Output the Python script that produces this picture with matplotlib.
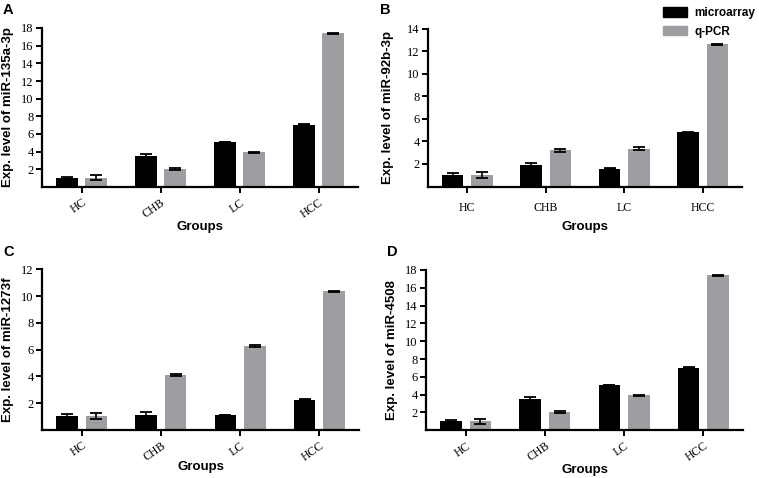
import numpy as np
import matplotlib
matplotlib.use("Agg")
import matplotlib.pyplot as plt
from matplotlib.patches import Patch

# data
groups = ["HC", "CHB", "LC", "HCC"]

a_micro = [1.06, 3.55, 5.07, 7.05]
a_micro_err = [0.12, 0.17, 0.03, 0.03]
a_qpcr = [1.04, 2.03, 3.92, 17.4]
a_qpcr_err = [0.28, 0.11, 0.06, 0.05]

b_micro = [1.04, 1.88, 1.58, 4.8]
b_micro_err = [0.14, 0.2, 0.02, 0.02]
b_qpcr = [1.03, 3.22, 3.35, 12.6]
b_qpcr_err = [0.27, 0.12, 0.13, 0.07]

c_micro = [1.07, 1.12, 1.12, 2.26]
c_micro_err = [0.12, 0.2, 0.02, 0.02]
c_qpcr = [1.05, 4.1, 6.27, 10.35]
c_qpcr_err = [0.25, 0.1, 0.07, 0.05]

d_micro = [1.06, 3.55, 5.07, 7.05]
d_micro_err = [0.12, 0.17, 0.03, 0.03]
d_qpcr = [1.04, 2.03, 3.92, 17.4]
d_qpcr_err = [0.28, 0.11, 0.06, 0.05]

BLACK = "#000000"
GRAY = "#9e9ea2"
SERIF = "Liberation Serif"
SANS = "Liberation Sans"

W, H = 759, 478


def px_axes(fig, left, top, right, bottom):
    return fig.add_axes([left / W, 1 - bottom / H, (right - left) / W, (bottom - top) / H])


def draw_panel(ax, micro, micro_err, qpcr, qpcr_err, ymax, ylabel, rotate, ylab_dx, xlab_dy):
    x = np.arange(len(groups))
    width = 0.272
    off = 0.186
    ax.bar(x - off, micro, width, color=BLACK, zorder=2)
    ax.bar(x + off, qpcr, width, color=GRAY, zorder=2)
    ax.errorbar(x - off, micro, yerr=micro_err, fmt="none", ecolor=BLACK,
                elinewidth=1.2, capsize=4.2, capthick=1.3, zorder=3)
    ax.errorbar(x + off, qpcr, yerr=qpcr_err, fmt="none", ecolor=BLACK,
                elinewidth=1.2, capsize=4.2, capthick=1.3, zorder=3)

    ax.set_xlim(-0.5, 3.5)
    ax.set_ylim(0, ymax)
    ax.set_yticks(np.arange(2, ymax + 1, 2))
    ax.set_xticks(x)
    for s in ["top", "right"]:
        ax.spines[s].set_visible(False)
    for s in ["left", "bottom"]:
        ax.spines[s].set_linewidth(1.6)
    ax.tick_params(axis="both", direction="out", length=4, width=1.4, labelsize=9)
    ax.tick_params(axis="y", pad=2)
    for lab in ax.get_yticklabels():
        lab.set_fontfamily(SERIF)
    if rotate:
        ax.set_xticklabels(groups, rotation=35, ha="right", rotation_mode="anchor",
                           fontfamily=SERIF, fontsize=8.5)
        ax.tick_params(axis="x", pad=3)
    else:
        ax.set_xticklabels(groups, fontfamily=SERIF, fontsize=8.5)
        ax.tick_params(axis="x", pad=7)

    # label positions in pixels relative to the axes box
    bb = ax.get_position()
    wpx = bb.width * W
    hpx = bb.height * H
    ax.set_ylabel(ylabel, fontfamily=SANS, fontweight="bold", fontsize=9.5, va="center")
    ax.yaxis.set_label_coords(-ylab_dx / wpx, 0.5)
    ax.set_xlabel("Groups", fontfamily=SANS, fontweight="bold", fontsize=9.5, va="center")
    ax.xaxis.set_label_coords(0.5, -xlab_dy / hpx)


fig = plt.figure(figsize=(W / 100, H / 100), dpi=100)

ax_a = px_axes(fig, 42, 28, 358, 187)
ax_b = px_axes(fig, 428, 28.7, 742, 186.5)
ax_c = px_axes(fig, 42, 269.3, 359, 430)
ax_d = px_axes(fig, 426, 270, 743, 430.3)

draw_panel(ax_a, a_micro, a_micro_err, a_qpcr, a_qpcr_err, 18, "Exp. level of miR-135a-3p", True, 34, 40)
draw_panel(ax_b, b_micro, b_micro_err, b_qpcr, b_qpcr_err, 14, "Exp. level of miR-92b-3p", False, 40, 40)
draw_panel(ax_c, c_micro, c_micro_err, c_qpcr, c_qpcr_err, 12, "Exp. level of miR-1273f", True, 34, 37)
draw_panel(ax_d, d_micro, d_micro_err, d_qpcr, d_qpcr_err, 18, "Exp. level of miR-4508", True, 34, 40)

# panel letters
for letter, (lx, ly) in zip("ABCD", [(3, 3), (380, 3), (3, 245), (387, 245)]):
    fig.text(lx / W, 1 - ly / H, letter, fontfamily=SANS, fontweight="bold",
             fontsize=10.5, va="top", ha="left")

handles = [Patch(color=BLACK, label="microarray"), Patch(color=GRAY, label="q-PCR")]
fig.legend(handles=handles, loc="upper right", bbox_to_anchor=(1.004, 1.0), frameon=False,
           borderpad=0.1, prop={"family": SANS, "weight": "bold", "size": 8.5},
           handlelength=2.0, handleheight=0.9, handletextpad=0.6, labelspacing=0.55)

fig.savefig("out.png", dpi=100)
